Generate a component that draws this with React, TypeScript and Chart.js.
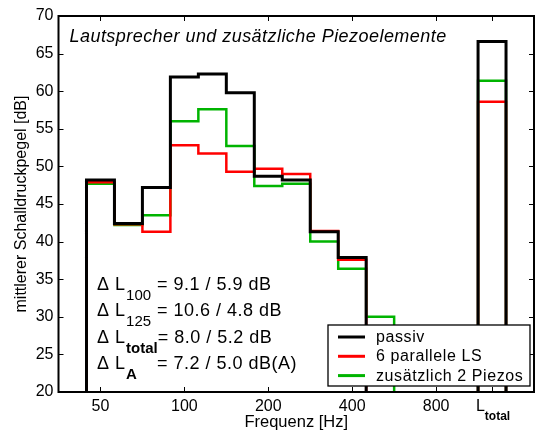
import React, { useEffect, useRef } from "react";
import { Chart, registerables } from "chart.js";

Chart.register(...registerables);

// ---- data ----
const bandLabels = ["50", "63", "80", "100", "125", "160", "200", "250", "315", "400", "500"];
const passiv: (number | null)[] = [48.2, 42.4, 47.2, 61.9, 62.3, 59.8, 48.7, 48.2, 41.3, 37.9, null];
const parallelLS: (number | null)[] = [47.9, 42.3, 41.3, 52.8, 51.7, 49.3, 49.7, 49.0, 41.4, 37.6, null];
const piezos: (number | null)[] = [47.7, 42.2, 43.5, 56.0, 57.6, 52.7, 47.4, 47.7, 40.0, 36.4, 30.0];
const totals = [66.6, 58.6, 61.4];
const totalIndex = 14;
const seriesNames = ["passiv", "6 parallele LS", "zusätzlich 2 Piezos"];
const seriesColors = ["#000000", "#ff0000", "#00b400"];
const seriesWidths = [3, 2.5, 2.5];

const xTickPositions = [0, 3, 6, 9, 12, 14];
const xTickLabels = ["50", "100", "200", "400", "800", ""];
const yMin = 20;
const yMax = 70;
const yStep = 5;

const titleText = "Lautsprecher und zusätzliche Piezoelemente";
const deltaSubs = ["100", "125", "total", "A"];
const deltaBold = [false, false, true, true];
const deltaValues = ["= 9.1 / 5.9 dB", "= 10.6 / 4.8 dB", "= 8.0 / 5.2 dB", "= 7.2 / 5.0 dB(A)"];

const FONT = '"Liberation Sans", Arial, Helvetica, sans-serif';

function buildSteps(vals: (number | null)[], total: number) {
  const floor = 0;
  const pts: { x: number; y: number | null }[] = [];
  let open = false;
  vals.forEach((v, i) => {
    if (v == null) {
      if (open) {
        pts.push({ x: i - 0.5, y: floor });
        pts.push({ x: i - 0.5, y: null });
        open = false;
      }
      return;
    }
    if (!open) {
      pts.push({ x: i - 0.5, y: floor });
      open = true;
    }
    pts.push({ x: i - 0.5, y: v });
    pts.push({ x: i + 0.5, y: v });
  });
  if (open) {
    pts.push({ x: vals.length - 0.5, y: floor });
    pts.push({ x: vals.length - 0.5, y: null });
  }
  pts.push({ x: totalIndex - 0.5, y: floor });
  pts.push({ x: totalIndex - 0.5, y: total });
  pts.push({ x: totalIndex + 0.5, y: total });
  pts.push({ x: totalIndex + 0.5, y: floor });
  return pts;
}

function setSpacing(ctx: any, s: string) {
  if ("letterSpacing" in ctx) ctx.letterSpacing = s;
}

const decorPlugin = {
  id: "decor",
  afterDraw(chart: any) {
    const ctx: CanvasRenderingContext2D = chart.ctx;
    const ca = chart.chartArea;
    const xs = chart.scales.x;
    const ys = chart.scales.y;
    ctx.save();

    // tick marks (inside, mirrored)
    ctx.strokeStyle = "#000";
    ctx.lineWidth = 1;
    for (let v = yMin; v <= yMax; v += yStep) {
      const y = Math.round(ys.getPixelForValue(v)) + 0.5;
      ctx.beginPath();
      ctx.moveTo(ca.left, y);
      ctx.lineTo(ca.left + 5, y);
      ctx.moveTo(ca.right - 5, y);
      ctx.lineTo(ca.right, y);
      ctx.stroke();
    }
    xTickPositions.forEach((p) => {
      const x = Math.round(xs.getPixelForValue(p)) + 0.5;
      ctx.beginPath();
      ctx.moveTo(x, ca.bottom);
      ctx.lineTo(x, ca.bottom - 5);
      ctx.moveTo(x, ca.top);
      ctx.lineTo(x, ca.top + 5);
      ctx.stroke();
    });

    // box
    ctx.lineWidth = 2;
    ctx.strokeRect(ca.left, ca.top, ca.right - ca.left, ca.bottom - ca.top);

    // L_total tick label
    const lx = xs.getPixelForValue(totalIndex);
    ctx.fillStyle = "#000";
    ctx.textBaseline = "alphabetic";
    ctx.textAlign = "left";
    ctx.font = `16px ${FONT}`;
    const wL = ctx.measureText("L").width;
    ctx.font = `bold 12px ${FONT}`;
    const wT = ctx.measureText("total").width;
    const startX = lx - (wL + wT) / 2 + 1;
    ctx.font = `16px ${FONT}`;
    ctx.fillText("L", startX, ca.bottom + 19);
    ctx.font = `bold 12px ${FONT}`;
    ctx.fillText("total", startX + wL, ca.bottom + 28);

    // title inside
    ctx.font = `italic 18px ${FONT}`;
    setSpacing(ctx, "0.45px");
    ctx.fillText(titleText, ca.left + 11, ca.top + 25.5);

    // delta annotations
    deltaSubs.forEach((sub, i) => {
      const base = 290 + 26.3 * i;
      const x0 = ca.left + 38.5;
      ctx.font = `18px ${FONT}`;
      setSpacing(ctx, "0.5px");
      ctx.fillText("Δ L", x0, base);
      const w = ctx.measureText("Δ L").width;
      ctx.font = `${deltaBold[i] ? "bold " : ""}15px ${FONT}`;
      setSpacing(ctx, "0px");
      ctx.fillText(sub, x0 + w + 0.5, base + 10);
      const sw = ctx.measureText(sub).width;
      ctx.font = `18px ${FONT}`;
      setSpacing(ctx, "0.5px");
      ctx.fillText(deltaValues[i], Math.max(ca.left + 98.5, x0 + w + 0.5 + sw), base);
    });

    // legend
    const bx = ca.right - 206;
    const by = ca.bottom - 67;
    const bw = 202;
    const bh = 61;
    setSpacing(ctx, "0px");
    ctx.fillStyle = "#fff";
    ctx.fillRect(bx, by, bw, bh);
    ctx.strokeStyle = "#000";
    ctx.lineWidth = 1.3;
    ctx.strokeRect(bx, by, bw, bh);
    ctx.font = `16px ${FONT}`;
    setSpacing(ctx, "0.6px");
    ctx.textBaseline = "middle";
    seriesNames.forEach((name, i) => {
      const y = by + 12 + 19.3 * i;
      ctx.strokeStyle = seriesColors[i];
      ctx.lineWidth = 3;
      ctx.beginPath();
      ctx.moveTo(bx + 10, y);
      ctx.lineTo(bx + 37, y);
      ctx.stroke();
      ctx.fillStyle = "#000";
      ctx.fillText(name, bx + 48, y + 0.5);
    });
    setSpacing(ctx, "0px");

    ctx.restore();
  },
};

export default function App() {
  const ref = useRef<HTMLCanvasElement>(null);
  useEffect(() => {
    if (!ref.current) return;
    const seriesVals = [passiv, parallelLS, piezos];
    const chart = new Chart(ref.current, {
      type: "line",
      data: {
        datasets: seriesVals.map((vals, i) => ({
          label: seriesNames[i],
          data: buildSteps(vals, totals[i]),
          borderColor: seriesColors[i],
          backgroundColor: seriesColors[i],
          borderWidth: seriesWidths[i],
          pointRadius: 0,
          borderJoinStyle: "miter" as const,
          borderCapStyle: "butt" as const,
          tension: 0,
          spanGaps: false,
          fill: false,
        })),
      },
      options: {
        animation: false,
        responsive: false,
        devicePixelRatio: 1,
        layout: { padding: { left: 0, top: 16, right: 2, bottom: 0 } },
        plugins: {
          legend: { display: false },
          tooltip: { enabled: false },
        },
        scales: {
          x: {
            type: "linear",
            min: -1.5,
            max: 15.5,
            afterBuildTicks: (scale: any) => {
              scale.ticks = xTickPositions.map((v) => ({ value: v }));
            },
            afterFit: (scale: any) => {
              scale.height = 40;
            },
            grid: { display: false, drawTicks: false },
            border: { display: false },
            ticks: {
              autoSkip: false,
              maxRotation: 0,
              padding: 5,
              color: "#000",
              font: { family: FONT, size: 16 },
              callback: (v: any) => {
                const idx = xTickPositions.indexOf(Number(v));
                return idx >= 0 ? xTickLabels[idx] : "";
              },
            },
            title: {
              display: true,
              text: "Frequenz [Hz]",
              color: "#000",
              font: { family: FONT, size: 16.5 },
              padding: { top: 0, bottom: 0 },
            },
          },
          y: {
            min: yMin,
            max: yMax,
            afterFit: (scale: any) => {
              scale.width = 58.5;
            },
            grid: { display: false, drawTicks: false },
            border: { display: false },
            ticks: {
              stepSize: yStep,
              padding: 5,
              color: "#000",
              font: { family: FONT, size: 16 },
            },
            title: {
              display: true,
              text: "mittlerer Schalldruckpegel [dB]",
              color: "#000",
              font: { family: FONT, size: 16 },
              padding: { top: 12, bottom: 0 },
            },
          },
        },
      },
      plugins: [decorPlugin],
    });
    return () => chart.destroy();
  }, []);
  return (
    <div style={{ position: "fixed", left: 0, top: 0, width: 536, height: 432, background: "#fff" }}>
      <canvas ref={ref} width={536} height={432} style={{ width: 536, height: 432, display: "block" }} />
    </div>
  );
}
